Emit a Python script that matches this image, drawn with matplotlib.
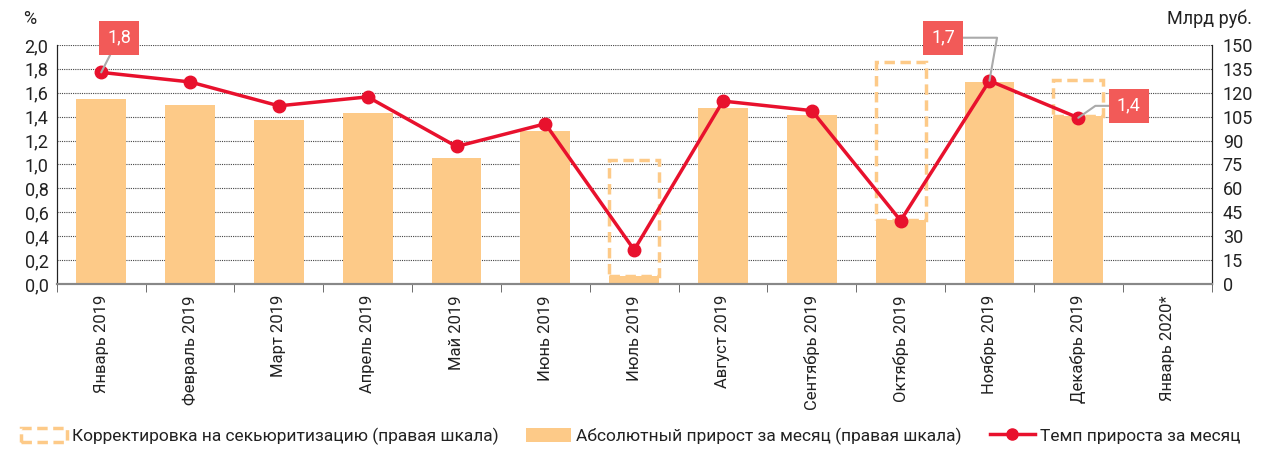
import matplotlib.pyplot as plt
import numpy as np
from matplotlib.patches import Patch
from matplotlib.lines import Line2D
from matplotlib.ticker import FuncFormatter

plt.rcParams['font.family'] = ['Roboto', 'DejaVu Sans']

months = ["Январь 2019", "Февраль 2019", "Март 2019", "Апрель 2019", "Май 2019",
          "Июнь 2019", "Июль 2019", "Август 2019", "Сентябрь 2019", "Октябрь 2019",
          "Ноябрь 2019", "Декабрь 2019", "Январь 2020*"]
# абсолютный прирост, млрд руб. (правая шкала)
growth_abs = [116, 112, 103, 107, 79, 96, 5, 110.5, 106, 40, 126.5, 105.5, np.nan]
# корректировка на секьюритизацию, млрд руб.
securitization = [0, 0, 0, 0, 0, 0, 73, 0, 0, 99, 0, 22.5, np.nan]
# темп прироста, %
growth_rate = [1.77, 1.69, 1.49, 1.565, 1.15, 1.34, 0.285, 1.53, 1.45, 0.53, 1.70, 1.39, np.nan]

x = np.arange(len(months))
bar_color = "#FDCA88"
red = "#E8112D"
box_red = "#F25A58"

fig = plt.figure(figsize=(12.62, 4.58), dpi=100)
ax = fig.add_axes([0.045, 0.38, 0.915, 0.522])
ax2 = ax.twinx()

ax2.bar(x, growth_abs, width=0.56, color=bar_color, zorder=2)
corr = np.array(securitization)
mask = np.nan_to_num(corr) > 0
ax2.bar(x[mask], corr[mask], bottom=np.array(growth_abs)[mask], width=0.56,
        facecolor="none", edgecolor=bar_color, linestyle=(0, (3, 1.6)), linewidth=2.5, zorder=3)

ax.plot(x, growth_rate, color=red, lw=2.5, marker="o", markersize=9, zorder=5)

ax.set_zorder(ax2.get_zorder() + 1)
ax.patch.set_visible(False)

ax.set_xlim(-0.5, len(months) - 0.5)
ax.set_ylim(0, 2.0)
ax2.set_ylim(0, 150)
ax.set_yticks(np.arange(0, 2.01, 0.2))
ax2.set_yticks(np.arange(0, 151, 15))
ax.yaxis.set_major_formatter(FuncFormatter(lambda v, p: f"{v:.1f}".replace(".", ",")))
ax2.grid(axis="y", color="#444444", linestyle=(0, (1, 1)), linewidth=0.8, zorder=0)
ax2.set_axisbelow(True)

ax.set_xticks(x)
ax.set_xticklabels(months, rotation=90, fontsize=12, color="#222222")
ax.set_xticks(np.arange(-0.5, len(months)), minor=True)
ax.tick_params(axis="x", which="major", length=0, pad=8)
ax.tick_params(axis="x", which="minor", length=6, color="#555555", direction="out")
ax.tick_params(axis="y", length=0, labelsize=13, colors="#222222", pad=6)
ax2.tick_params(axis="y", length=0, labelsize=13, colors="#222222", pad=8)

for a in (ax, ax2):
    a.spines["top"].set_visible(False)
    a.spines["left"].set_color("#222222")
    a.spines["right"].set_color("#222222")
    a.spines["bottom"].set_color("#888888")
    a.spines["bottom"].set_linewidth(1.5)

fig.text(0.018, 0.948, "%", fontsize=13, color="#222222")
fig.text(0.992, 0.948, "Млрд руб.", fontsize=13, color="#222222", ha="right")

bbox = dict(boxstyle="square,pad=0.45", fc=box_red, ec="none")
arrow = dict(arrowstyle="-", color="#AAAAAA", lw=1.5, shrinkA=0, shrinkB=0)
ax.annotate("1,8", xy=(0, growth_rate[0]), xytext=(0.2, 2.06), fontsize=13, color="white",
            ha="center", va="center", bbox=bbox, arrowprops=arrow, annotation_clip=False, zorder=6)
ax.annotate("1,7", xy=(10, growth_rate[10]), xytext=(9.48, 2.06), fontsize=13, color="white",
            ha="center", va="center", bbox=bbox, annotation_clip=False, zorder=6,
            arrowprops=dict(arrowstyle="-", color="#AAAAAA", lw=1.5, shrinkA=0, shrinkB=0,
                            connectionstyle="angle,angleA=0,angleB=80,rad=0"))
ax.annotate("1,4", xy=(11, growth_rate[11]), xytext=(11.57, 1.49), fontsize=13, color="white",
            ha="center", va="center", bbox=bbox, annotation_clip=False, zorder=6,
            arrowprops=dict(arrowstyle="-", color="#AAAAAA", lw=1.5, shrinkA=0, shrinkB=0,
                            connectionstyle="angle,angleA=180,angleB=35,rad=0"))

handles = [Patch(facecolor="none", edgecolor=bar_color, linestyle=(0, (3, 1.6)), linewidth=2.5),
           Patch(facecolor=bar_color, edgecolor="none"),
           Line2D([0], [0], color=red, lw=2.5, marker="o", markersize=8)]
labels = ["Корректировка на секьюритизацию (правая шкала)",
          "Абсолютный прирост за месяц (правая шкала)",
          "Темп прироста за месяц"]
fig.legend(handles, labels, loc="lower center", bbox_to_anchor=(0.5, -0.005), ncol=3,
           frameon=False, fontsize=12.5, handlelength=2.6, handleheight=0.9, handletextpad=0.3,
           columnspacing=1.6, labelcolor="#222222")

fig.savefig("out.png", dpi=100)
